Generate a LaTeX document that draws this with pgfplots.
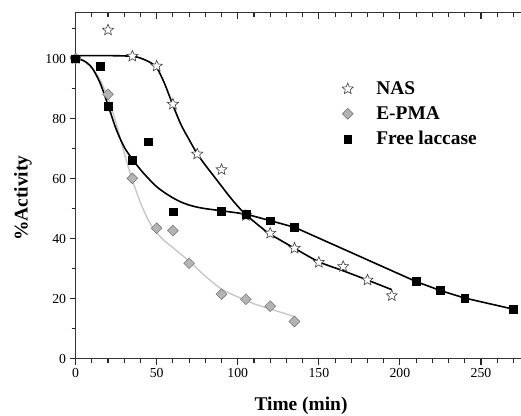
\documentclass[border=0pt]{standalone}
\usepackage{fontspec}
\setmainfont{Liberation Serif}
\usepackage{pgfplots}
\pgfplotsset{compat=1.18}
\usetikzlibrary{plotmarks}

\definecolor{fitgrey}{RGB}{200,200,200}
\definecolor{dfill}{RGB}{180,180,180}
\definecolor{dedge}{RGB}{125,125,125}

% five pointed outline star
\pgfdeclareplotmark{fivestar}{%
  \pgfpathmoveto{\pgfpointpolar{90}{\pgfplotmarksize}}
  \pgfpathlineto{\pgfpointpolar{126}{0.45\pgfplotmarksize}}
  \pgfpathlineto{\pgfpointpolar{162}{\pgfplotmarksize}}
  \pgfpathlineto{\pgfpointpolar{198}{0.45\pgfplotmarksize}}
  \pgfpathlineto{\pgfpointpolar{234}{\pgfplotmarksize}}
  \pgfpathlineto{\pgfpointpolar{270}{0.45\pgfplotmarksize}}
  \pgfpathlineto{\pgfpointpolar{306}{\pgfplotmarksize}}
  \pgfpathlineto{\pgfpointpolar{342}{0.45\pgfplotmarksize}}
  \pgfpathlineto{\pgfpointpolar{18}{\pgfplotmarksize}}
  \pgfpathlineto{\pgfpointpolar{54}{0.45\pgfplotmarksize}}
  \pgfpathclose
  \pgfusepathqfillstroke
}

\begin{document}
\begin{tikzpicture}
% page = reference frame; right spine lies just outside it
\useasboundingbox (-75.6bp,-57.3bp) rectangle (445.4bp,358.7bp);

\begin{axis}[
  scale only axis,
  width=450.8bp, height=346bp,
  xmin=0, xmax=278, ymin=0, ymax=115.3,
  clip=false,
  unbounded coords=jump,
  axis line style={line width=1.1bp, black!80},
  major tick length=6bp, minor tick length=4bp,
  xtick={0,50,100,150,200,250},
  minor xtick={10,20,30,40,60,70,80,90,110,120,130,140,160,170,180,190,210,220,230,240,260,270},
  ytick={0,20,40,60,80,100},
  minor ytick={10,30,50,70,90,110},
  xtick style={line width=1.1bp, black!85},
  ytick style={line width=1.1bp, black!85},
  xtick pos=bottom, ytick pos=left,
  xtick align=outside, ytick align=outside,
  /pgf/number format/assume math mode=true,
  tick label style={font=\fontsize{13.8}{16}\selectfont},
  xlabel={Time (min)},
  ylabel={\%Activity},
  label style={font=\fontsize{19.5}{22}\selectfont\bfseries},
  xlabel style={at={(axis description cs:0.5,-0.136)}, anchor=center},
  ylabel style={at={(axis description cs:-0.1167,0.464)}, anchor=center},
  legend style={at={(axis cs:164.3,92.7)}, anchor=north west, draw=none, fill=none,
    inner sep=0pt, row sep=8.5bp,
    font=\fontsize{19.5}{22}\selectfont\bfseries,
    nodes={inner ysep=1bp, inner xsep=2bp},
    /tikz/every odd column/.append style={column sep=21bp}},
  legend cell align=left,
]

% tick marks on the top spine (pointing in) and bottom spine (pointing out)
\addplot[black!85, line width=1.1bp, forget plot] coordinates {
  (50,115.3) (50,113.3) (50,nan) (100,115.3) (100,113.3) (100,nan)
  (150,115.3) (150,113.3) (150,nan) (200,115.3) (200,113.3) (200,nan)
  (250,115.3) (250,113.3) (250,nan)
  (10,115.3) (10,114) (10,nan) (20,115.3) (20,114) (20,nan)
  (30,115.3) (30,114) (30,nan) (40,115.3) (40,114) (40,nan)
  (60,115.3) (60,114) (60,nan) (70,115.3) (70,114) (70,nan)
  (80,115.3) (80,114) (80,nan) (90,115.3) (90,114) (90,nan)
  (110,115.3) (110,114) (110,nan) (120,115.3) (120,114) (120,nan)
  (130,115.3) (130,114) (130,nan) (140,115.3) (140,114) (140,nan)
  (160,115.3) (160,114) (160,nan) (170,115.3) (170,114) (170,nan)
  (180,115.3) (180,114) (180,nan) (190,115.3) (190,114) (190,nan)
  (210,115.3) (210,114) (210,nan) (220,115.3) (220,114) (220,nan)
  (230,115.3) (230,114) (230,nan) (240,115.3) (240,114) (240,nan)
  (260,115.3) (260,114) (260,nan) (270,115.3) (270,114)
};
\addplot[black!85, line width=1.1bp, forget plot] coordinates {
  (0,0) (0,-2) (0,nan) (50,0) (50,-2) (50,nan) (100,0) (100,-2) (100,nan)
  (150,0) (150,-2) (150,nan) (200,0) (200,-2) (200,nan) (250,0) (250,-2) (250,nan)
  (10,0) (10,-1.33) (10,nan) (20,0) (20,-1.33) (20,nan)
  (30,0) (30,-1.33) (30,nan) (40,0) (40,-1.33) (40,nan)
  (60,0) (60,-1.33) (60,nan) (70,0) (70,-1.33) (70,nan)
  (80,0) (80,-1.33) (80,nan) (90,0) (90,-1.33) (90,nan)
  (110,0) (110,-1.33) (110,nan) (120,0) (120,-1.33) (120,nan)
  (130,0) (130,-1.33) (130,nan) (140,0) (140,-1.33) (140,nan)
  (160,0) (160,-1.33) (160,nan) (170,0) (170,-1.33) (170,nan)
  (180,0) (180,-1.33) (180,nan) (190,0) (190,-1.33) (190,nan)
  (210,0) (210,-1.33) (210,nan) (220,0) (220,-1.33) (220,nan)
  (230,0) (230,-1.33) (230,nan) (240,0) (240,-1.33) (240,nan)
  (260,0) (260,-1.33) (260,nan) (270,0) (270,-1.33)
};

% fitted curves
\addplot[black, line width=1.6bp, smooth, forget plot] coordinates {
  (0,101) (15,101) (30,100.9) (38,100.5) (45,99) (50,97) (55,91.5) (60,84.5)
  (65,78) (70,73) (75,68.3) (80,64.5) (85,61) (90,57.5) (95,54) (100,50.8)
  (105,48) (110,45.7) (115,43.5) (120,41.5) (135,36.8) (150,32.3) (165,29.3)
  (180,26.2) (195,23)
};
\addplot[fitgrey, line width=1.4bp, smooth, forget plot] coordinates {
  (0,100) (5,99.2) (10,97) (15,93) (20,87) (25,78.5) (30,68.5) (35,59.5)
  (40,52) (45,46) (50,42) (55,39.2) (60,37) (70,32.5) (80,27.5) (90,23.2)
  (100,20.6) (110,18.3) (120,16.6) (135,14)
};
\addplot[black, line width=1.6bp, smooth, forget plot] coordinates {
  (0,100) (5,99.3) (10,97) (15,92) (20,84.5) (25,76.5) (30,70.5) (35,66.5)
  (40,63) (45,60) (50,57.3) (55,55.3) (60,53.6) (65,52.2) (70,51.2) (75,50.5)
  (80,50) (90,49.3) (105,48.2)
};
\addplot[black, line width=1.6bp, forget plot] coordinates {
  (105,48.2) (120,46) (135,43.8) (210,25.7) (225,22.7) (240,20.2) (270,16.5)
};

% data points
\addplot[only marks, mark=fivestar, mark size=5.8bp,
  mark options={draw=black!75, fill=white, line width=0.6bp}] coordinates {
  (0,100) (20,109.5) (35,100.8) (50,97.5) (60,84.8) (75,68.2) (90,63)
  (105,47.7) (120,41.8) (135,36.8) (150,32.1) (165,30.7) (180,26.2) (195,21)
};
\addplot[only marks, mark=square*, mark size=3.8bp,
  mark options={rotate=45, draw=dedge, fill=dfill, line width=0.6bp}] coordinates {
  (0,100) (20,88.1) (35,60.1) (50,43.5) (60,42.7) (70,31.8) (90,21.5)
  (105,19.8) (120,17.5) (135,12.4)
};
\addplot[only marks, mark=square*, mark size=3.9bp,
  mark options={draw=black, fill=black}] coordinates {
  (0,100) (15,97.6) (20,84.2) (35,66.2) (45,72.3) (60,49) (90,49.2)
  (105,48.2) (120,46) (135,43.8) (210,25.7) (225,22.7) (240,20.2) (270,16.5)
};
\legend{NAS, E-PMA, Free laccase}
\end{axis}
\end{tikzpicture}
\end{document}
